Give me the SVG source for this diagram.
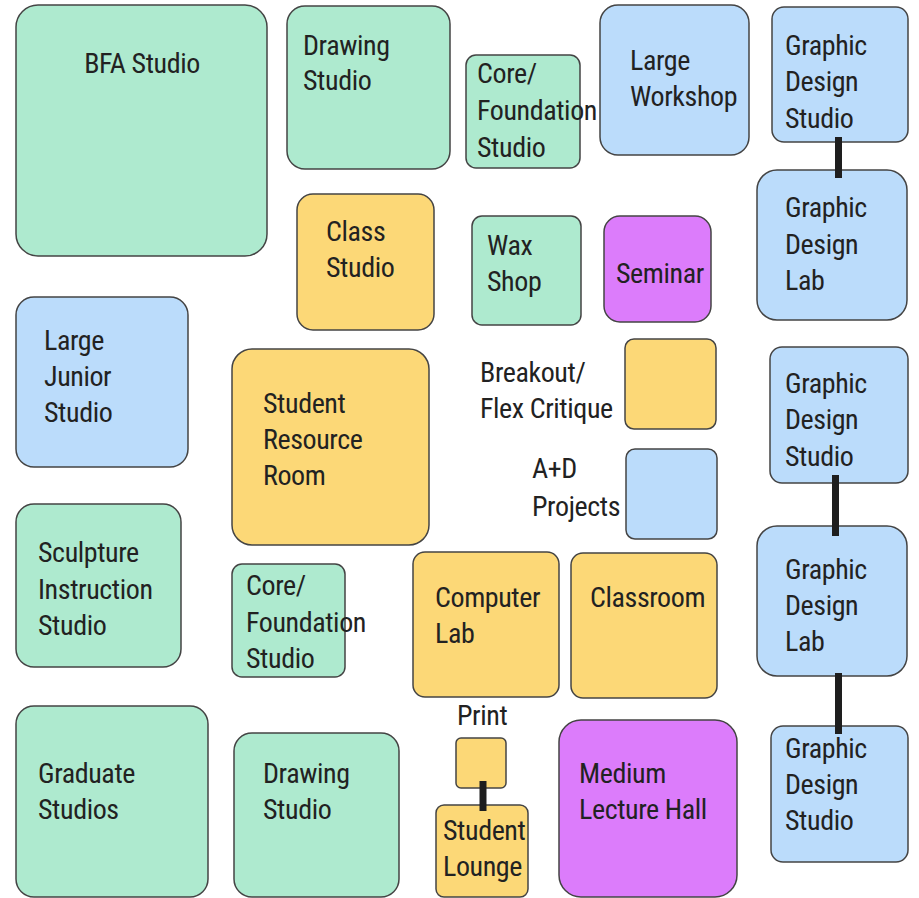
<svg xmlns="http://www.w3.org/2000/svg" width="919" height="898" viewBox="0 0 919 898">
<style>
rect{stroke:#444;stroke-width:1.5}
.g{fill:#aeeacf}
.y{fill:#fcd877}
.b{fill:#bbdcfb}
.p{fill:#dc7cfb}
text{font-family:"Liberation Sans Narrow","Arial Narrow","Roboto Condensed","DejaVu Sans Condensed",sans-serif;font-size:28px;letter-spacing:-0.4px;fill:#222}
.c{stroke:#1e1e1e;stroke-width:7;fill:none}
</style>
<rect width="919" height="898" fill="#fff" style="stroke:none"/>
<g id="bfa-studio"><rect class="g" x="16" y="5" width="251" height="251" rx="22"/><text x="142" y="73" text-anchor="middle">BFA Studio</text></g>
<g id="drawing-studio-top"><rect class="g" x="287" y="6" width="163" height="163" rx="18"/><text x="303" y="55">Drawing</text><text x="303" y="90">Studio</text></g>
<g id="core-foundation-top"><rect class="g" x="466" y="55" width="114" height="113" rx="10"/><text x="477" y="83">Core/</text><text x="477" y="120">Foundation</text><text x="477" y="157">Studio</text></g>
<g id="large-workshop"><rect class="b" x="600" y="5" width="149" height="150" rx="18"/><text x="630" y="70">Large</text><text x="630" y="106">Workshop</text></g>
<g id="gd-studio-1"><rect class="b" x="772" y="7" width="136" height="135" rx="12"/><text x="785" y="55">Graphic</text><text x="785" y="91">Design</text><text x="785" y="128">Studio</text></g>
<g id="gd-lab-1"><rect class="b" x="757" y="170" width="150" height="150" rx="20"/><text x="785" y="217">Graphic</text><text x="785" y="254">Design</text><text x="785" y="290">Lab</text></g>
<g id="class-studio"><rect class="y" x="297" y="194" width="137" height="136" rx="16"/><text x="326" y="241">Class</text><text x="326" y="277">Studio</text></g>
<g id="wax-shop"><rect class="g" x="472" y="216" width="109" height="109" rx="10"/><text x="487" y="255">Wax</text><text x="487" y="291">Shop</text></g>
<g id="seminar"><rect class="p" x="604" y="216" width="107" height="106" rx="16"/><text x="616" y="283">Seminar</text></g>
<g id="large-junior-studio"><rect class="b" x="16" y="297" width="172" height="170" rx="18"/><text x="44" y="350">Large</text><text x="44" y="386">Junior</text><text x="44" y="422">Studio</text></g>
<g id="student-resource-room"><rect class="y" x="232" y="349" width="197" height="196" rx="20"/><text x="263" y="413">Student</text><text x="263" y="449">Resource</text><text x="263" y="485">Room</text></g>
<g id="breakout"><rect class="y" x="625" y="339" width="91" height="90" rx="9"/><text x="480" y="382">Breakout/</text><text x="480" y="418">Flex Critique</text></g>
<g id="ad-projects"><rect class="b" x="626" y="449" width="91" height="90" rx="9"/><text x="532" y="478">A+D</text><text x="532" y="516">Projects</text></g>
<g id="gd-studio-2"><rect class="b" x="770" y="347" width="138" height="136" rx="12"/><text x="785" y="393">Graphic</text><text x="785" y="429">Design</text><text x="785" y="466">Studio</text></g>
<g id="gd-lab-2"><rect class="b" x="757" y="526" width="150" height="150" rx="20"/><text x="785" y="579">Graphic</text><text x="785" y="615">Design</text><text x="785" y="651">Lab</text></g>
<g id="gd-studio-3"><rect class="b" x="771" y="726" width="137" height="136" rx="12"/><text x="785" y="758">Graphic</text><text x="785" y="794">Design</text><text x="785" y="830">Studio</text></g>
<g id="sculpture"><rect class="g" x="16" y="504" width="165" height="163" rx="18"/><text x="38" y="562">Sculpture</text><text x="38" y="599">Instruction</text><text x="38" y="635">Studio</text></g>
<g id="core-foundation-mid"><rect class="g" x="232" y="564" width="113" height="113" rx="10"/><text x="246" y="595">Core/</text><text x="246" y="632">Foundation</text><text x="246" y="668">Studio</text></g>
<g id="computer-lab"><rect class="y" x="413" y="552" width="146" height="145" rx="12"/><text x="435" y="607">Computer</text><text x="435" y="643">Lab</text></g>
<g id="classroom"><rect class="y" x="571" y="553" width="146" height="145" rx="12"/><text x="590" y="607">Classroom</text></g>
<g id="print"><rect class="y" x="456" y="738" width="50" height="50" rx="5"/><text x="457" y="725">Print</text></g>
<g id="student-lounge"><rect class="y" x="436" y="805" width="92" height="92" rx="8"/><text x="443" y="840">Student</text><text x="443" y="876">Lounge</text></g>
<g id="medium-lecture-hall"><rect class="p" x="559" y="720" width="178" height="177" rx="22"/><text x="579" y="783">Medium</text><text x="579" y="819">Lecture Hall</text></g>
<g id="graduate-studios"><rect class="g" x="16" y="706" width="192" height="191" rx="18"/><text x="38" y="783">Graduate</text><text x="38" y="819">Studios</text></g>
<g id="drawing-studio-bottom"><rect class="g" x="234" y="733" width="165" height="164" rx="18"/><text x="263" y="783">Drawing</text><text x="263" y="819">Studio</text></g>
<g id="connectors">
<line class="c" x1="838.5" y1="137" x2="838.5" y2="178"/>
<line class="c" x1="835.5" y1="475" x2="835.5" y2="536"/>
<line class="c" x1="838.5" y1="673" x2="838.5" y2="734"/>
<line class="c" x1="483" y1="781" x2="483" y2="811"/>
</g>
</svg>
